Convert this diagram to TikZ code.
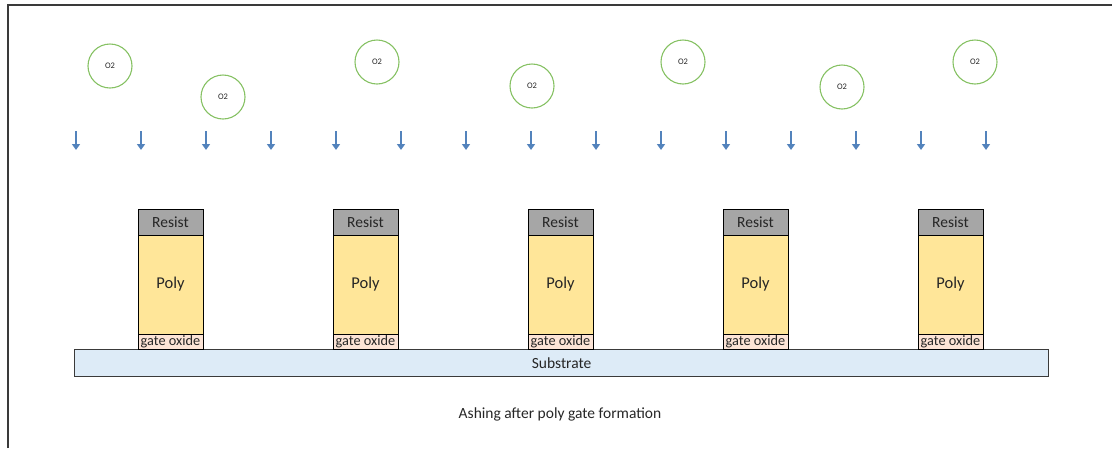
\documentclass[tikz,border=0pt]{standalone}
\usepackage{fontspec}
\setmainfont{Carlito}
\usetikzlibrary{arrows.meta}
\definecolor{resistgray}{HTML}{A6A6A6}
\definecolor{polyyellow}{HTML}{FFE699}
\definecolor{oxidepeach}{HTML}{FCE4D6}
\definecolor{subblue}{HTML}{DDEBF7}
\definecolor{ogreen}{HTML}{86C163}
\definecolor{arrowblue}{HTML}{5383BC}
\definecolor{framegray}{HTML}{3A3A3A}
\definecolor{textgray}{HTML}{262626}
\tikzset{
  layer/.style={draw=black, line width=0.8pt, anchor=north west, minimum width=65pt, inner sep=0pt, outer sep=0pt, text=textgray, font=\fontsize{15.5}{15.5}\selectfont},
  resistbox/.style={layer, fill=resistgray, minimum height=26pt},
  polybox/.style={layer, fill=polyyellow, minimum height=99pt, font=\fontsize{16.5}{16.5}\selectfont},
  oxidebox/.style={layer, fill=oxidepeach, minimum height=15pt, font=\fontsize{14.3}{14.3}\selectfont},
  subbox/.style={draw=framegray, line width=1.2pt, fill=subblue, anchor=north west, minimum width=974pt, minimum height=27pt, inner sep=0pt, text=textgray, font=\fontsize{15.5}{15.5}\selectfont},
  molecule/.style={circle, draw=ogreen, line width=1.1pt, minimum size=44pt, inner sep=0pt, text=textgray, font=\fontsize{8.5}{8.5}\selectfont},
  flow/.style={draw=arrowblue, line width=2.6pt, -{Triangle[width=8pt,length=6pt]}},
  caption/.style={text=textgray, font=\fontsize{15.5}{15.5}\selectfont}
}
\begin{document}
\begin{tikzpicture}[x=1pt,y=-1pt]
\useasboundingbox (0,0) rectangle (1112,448);
% frame
\draw[framegray, line width=1.5pt] (8,448) -- (8,5) -- (1112,5);
% O2 molecules
\node[molecule] (m1) at (110,66) {O2};
\node[molecule] (m2) at (223,97) {O2};
\node[molecule] (m3) at (377,62) {O2};
\node[molecule] (m4) at (532,86) {O2};
\node[molecule] (m5) at (683,62) {O2};
\node[molecule] (m6) at (842,87) {O2};
\node[molecule] (m7) at (975,62) {O2};
% arrows
\foreach \i in {0,...,14} {
  \coordinate (a\i s) at ({76+65*\i},131);
  \coordinate (a\i e) at ({76+65*\i},150);
  \draw[flow] (a\i s) -- (a\i e);
}
% substrate
\node[subbox] (sub) at (74,349) {Substrate};
% gate stacks
\foreach \i in {0,...,4} {
  \node[resistbox] (r\i) at ({138+195*\i},209) {Resist};
  \node[polybox] (p\i) at ({138+195*\i},235) {Poly};
  \node[oxidebox] (g\i) at ({138+195*\i},334) {gate oxide};
}
% caption
\node[caption] (cap) at (560,414) {Ashing after poly gate formation};
\end{tikzpicture}
\end{document}
